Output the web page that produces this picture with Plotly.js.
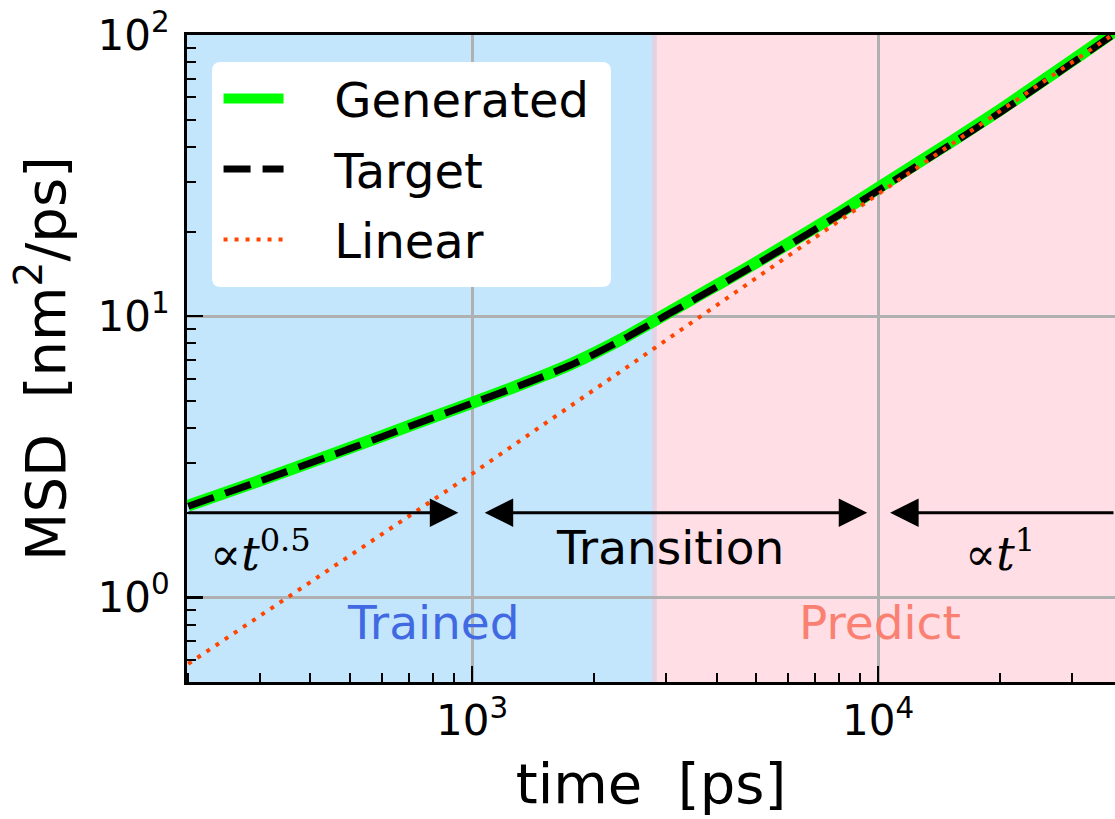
<!DOCTYPE html>
<html>
<head>
<meta charset="utf-8">
<script src="https://cdn.plot.ly/plotly-3.0.1.min.js"></script>
<style>
  html, body { margin: 0; padding: 0; background: #ffffff; }
  #chart { width: 1115px; height: 819px; }
</style>
</head>
<body>
<div id="chart"></div>
<script>
// Mean squared displacement vs. lag time (log-log)
const timePs = [200, 300, 500, 700, 1000, 1250, 1500, 1750, 2000, 2400, 2800, 3300, 4000, 4700, 5600, 8000, 10000, 15000, 20000, 30000, 40000];
const msdTarget = [2.11, 2.59, 3.38, 4.05, 4.90, 5.52, 6.11, 6.70, 7.33, 8.40, 9.51, 10.86, 12.7, 14.5, 16.8, 22.9, 28.0, 40.6, 53.1, 79.4, 105.9];
const msdGenerated = [2.12, 2.60, 3.40, 4.07, 4.92, 5.55, 6.15, 6.75, 7.39, 8.47, 9.61, 11.0, 12.88, 14.7, 17.05, 23.25, 28.55, 41.4, 54.2, 81.0, 108.0];

const timeLinear = [200, 1000, 10000, 40000];
const msdLinear = [0.58, 2.75, 27.2, 106];

// Time windows: trained region and prediction region
const trainedSpan = [150, 2850];
const predictSpan = [2775, 50000];

// Regime markers (arrows at MSD = 2)
const regimeLevel = 2;
const regimeBounds = { shortEnd: 925, midStart: 1065, midEnd: 9400, longStart: 10700 };

const xRange = [198.6, 38300];
const yRange = [0.5, 100];

const xTickVals = [1000, 10000];
const xTickText = ['10<sup>3</sup>', '10<sup>4</sup>'];
const yTickVals = [1, 10, 100];
const yTickText = ['10<sup>0</sup>', '10<sup>1</sup>', '10<sup>2</sup>'];

const lg = Math.log10;
const NB = '\u00a0';

function minorTicks(lo, hi) {
  const out = [];
  for (let d = Math.floor(lg(lo)); d <= Math.ceil(lg(hi)); d++) {
    for (let m = 2; m <= 9; m++) {
      const v = m * Math.pow(10, d);
      if (v >= lo && v <= hi) out.push(v);
    }
  }
  return out;
}

const FONT = 'DejaVu Sans, sans-serif';
const SERIF = 'DejaVu Serif, serif';

const traces = [
  {
    x: timePs, y: msdGenerated, name: NB + NB + NB + 'Generated', mode: 'lines',
    line: { color: '#00ff00', width: 12, shape: 'spline', smoothing: 0.5 },
    legendgroup: 'g1'
  },
  {
    x: timePs, y: msdTarget, name: NB + NB + NB + 'Target', mode: 'lines',
    line: { color: '#000000', width: 7, dash: '27px,12px', shape: 'spline', smoothing: 0.5 },
    legendgroup: 'g2'
  },
  {
    x: timeLinear, y: msdLinear, name: NB + NB + NB + 'Linear', mode: 'lines',
    line: { color: '#ff4500', width: 4, dash: '4px,7px' },
    legendgroup: 'g3'
  }
];

// rounded legend backdrop (paper coordinates)
function roundedRect(x0, y0, x1, y1, rx, ry) {
  return `M${x0 + rx},${y1} L${x1 - rx},${y1} Q${x1},${y1} ${x1},${y1 - ry} ` +
         `L${x1},${y0 + ry} Q${x1},${y0} ${x1 - rx},${y0} ` +
         `L${x0 + rx},${y0} Q${x0},${y0} ${x0},${y0 + ry} ` +
         `L${x0},${y1 - ry} Q${x0},${y1} ${x0 + rx},${y1} Z`;
}

const shapes = [
  { type: 'rect', xref: 'x', yref: 'paper', x0: trainedSpan[0], x1: trainedSpan[1],
    y0: 0, y1: 1, fillcolor: 'rgba(135,206,250,0.5)', line: { width: 0 }, layer: 'below' },
  { type: 'rect', xref: 'x', yref: 'paper', x0: predictSpan[0], x1: predictSpan[1],
    y0: 0, y1: 1, fillcolor: 'rgba(255,192,203,0.5)', line: { width: 0 }, layer: 'below' },
  { type: 'path', xref: 'paper', yref: 'paper',
    path: roundedRect(0.0269, 0.6105, 0.4569, 0.9583, 9 / 928, 9 / 647),
    fillcolor: '#ffffff', line: { width: 0 }, layer: 'above' }
];

const arrowStyle = {
  xref: 'x', yref: 'y', axref: 'x', ayref: 'y', text: '', showarrow: true,
  arrowcolor: '#000000', arrowwidth: 3, arrowhead: 2, arrowsize: 1.9,
  startarrowhead: 2, startarrowsize: 1.9, standoff: 0, startstandoff: 0
};

const annotations = [
  Object.assign({}, arrowStyle, {
    x: lg(regimeBounds.shortEnd), y: lg(regimeLevel),
    ax: lg(xRange[0]), ay: lg(regimeLevel), arrowside: 'end'
  }),
  Object.assign({}, arrowStyle, {
    x: lg(regimeBounds.midEnd), y: lg(regimeLevel),
    ax: lg(regimeBounds.midStart), ay: lg(regimeLevel), arrowside: 'end+start'
  }),
  Object.assign({}, arrowStyle, {
    x: lg(regimeBounds.longStart), y: lg(regimeLevel),
    ax: lg(xRange[1]), ay: lg(regimeLevel), arrowside: 'end'
  }),
  { xref: 'x', yref: 'y', x: 2.478, y: 0.165, showarrow: false,
    text: '∝<i>t</i><sup>0.5</sup>', font: { family: SERIF, size: 46, color: '#000' } },
  { xref: 'x', yref: 'y', x: 3.488, y: 0.176, showarrow: false,
    text: 'Transition', font: { family: FONT, size: 47, color: '#000' } },
  { xref: 'x', yref: 'y', x: 4.300, y: 0.165, showarrow: false,
    text: '∝<i>t</i><sup>1</sup>', font: { family: SERIF, size: 46, color: '#000' } },
  { xref: 'x', yref: 'y', x: 2.906, y: -0.091, showarrow: false,
    text: 'Trained', font: { family: FONT, size: 47, color: '#4169e1' } },
  { xref: 'x', yref: 'y', x: 4.005, y: -0.091, showarrow: false,
    text: 'Predict', font: { family: FONT, size: 47, color: '#fa8072' } }
];

const axisCommon = {
  type: 'log',
  showline: true, linecolor: '#000000', linewidth: 3,
  ticks: 'inside', ticklen: 16, tickwidth: 2.5, tickcolor: '#000000',
  showgrid: true, gridcolor: '#b0b0b0', gridwidth: 3,
  zeroline: false,
  tickmode: 'array',
  tickfont: { family: FONT, size: 42, color: '#000000' }
};

const layout = {
  width: 1115, height: 819,
  margin: { l: 187, r: 0, t: 35, b: 137 },
  paper_bgcolor: '#ffffff', plot_bgcolor: '#ffffff',
  showlegend: true,
  legend: {
    x: 0.034, y: 0.960, xanchor: 'left', yanchor: 'top',
    bgcolor: 'rgba(0,0,0,0)', borderwidth: 0,
    font: { family: FONT, size: 48, color: '#000000' },
    itemwidth: 60, traceorder: 'grouped', tracegroupgap: 5
  },
  xaxis: Object.assign({}, axisCommon, {
    range: [lg(xRange[0]), lg(xRange[1])],
    tickvals: xTickVals, ticktext: xTickText,
    mirror: true,
    minor: { tickmode: 'array', tickvals: minorTicks(xRange[0], xRange[1]),
             ticks: 'inside', ticklen: 9, tickwidth: 2, tickcolor: '#000000', showgrid: false },
    title: { text: 'time' + NB + NB + '[ps]', font: { family: FONT, size: 56, color: '#000000' }, standoff: 20 }
  }),
  yaxis: Object.assign({}, axisCommon, {
    range: [lg(yRange[0]), lg(yRange[1])],
    tickvals: yTickVals, ticktext: yTickText,
    ticklabelstandoff: 6,
    minor: { tickmode: 'array', tickvals: minorTicks(yRange[0], yRange[1]),
             ticks: 'inside', ticklen: 9, tickwidth: 2, tickcolor: '#000000', showgrid: false },
    title: { text: 'MSD' + NB + NB + '[nm<sup>2</sup>/ps]', font: { family: FONT, size: 56, color: '#000000' }, standoff: 14 }
  }),
  shapes: shapes,
  annotations: annotations
};

Plotly.newPlot('chart', traces, layout, { displayModeBar: false, staticPlot: true });
</script>
</body>
</html>
